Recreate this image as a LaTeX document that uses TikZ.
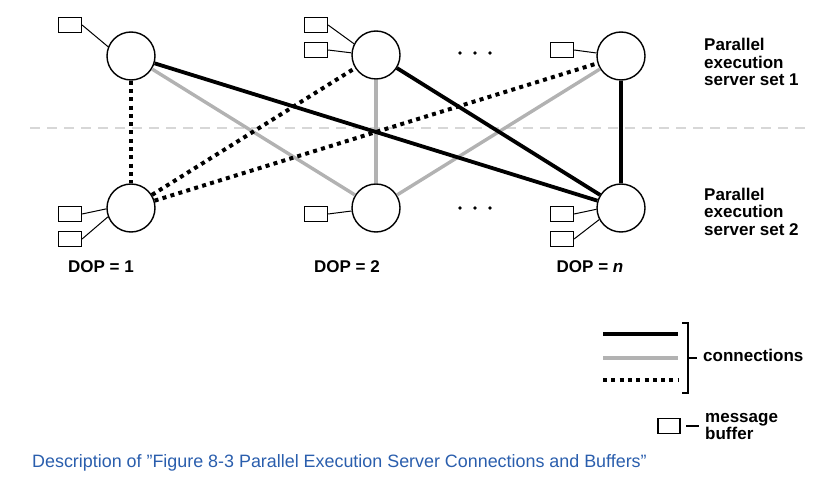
\documentclass[tikz,border=0pt]{standalone}
\usepackage{fontspec}
\setmainfont{Liberation Sans}
\definecolor{lgray}{RGB}{178,178,178}
\definecolor{sepgray}{RGB}{215,215,215}
\definecolor{capblue}{RGB}{42,94,173}
\begin{document}
\begin{tikzpicture}[x=1pt,y=-1pt,
  srv/.style={circle,draw,line width=1.4pt,minimum size=48pt,inner sep=0pt,fill=white},
  buf/.style={rectangle,draw,line width=1.2pt,minimum width=23pt,minimum height=15pt,inner sep=0pt},
  bufln/.style={line width=1pt},
  blk/.style={line width=3.8pt,black},
  gry/.style={line width=3.4pt,draw=lgray},
  dotconn/.style={line width=4pt,dash pattern=on 4pt off 4.3pt},
  lab/.style={font=\fontsize{17}{17.5}\selectfont\bfseries,align=left,anchor=base west,inner sep=0pt},
  doplab/.style={font=\fontsize{17}{17.5}\selectfont\bfseries,anchor=base,inner sep=0pt},
  ell/.style={fill=black}
]
\useasboundingbox (0,0) rectangle (819,489);

% separator
\draw[sepgray,line width=2pt,dash pattern=on 10pt off 7pt] (30,128) -- (808,128);

% servers
\node[srv] (t1) at (131,56) {};
\node[srv] (t2) at (376,55) {};
\node[srv] (tn) at (621,56) {};
\node[srv] (b1) at (131,208) {};
\node[srv] (b2) at (376,208) {};
\node[srv] (bn) at (621,208) {};

% connections
\draw[gry] (t1) -- (b2);
\draw[gry] (t2) -- (b2);
\draw[gry] (b2) -- (tn);
\draw[blk] (t1) -- (bn);
\draw[blk] (t2) -- (bn);
\draw[blk] (tn) -- (bn);
\draw[dotconn] (t1) -- (b1);
\draw[dotconn] (b1) -- (t2);
\draw[dotconn] (b1) -- (tn);

% buffers
\node[buf] (bt1) at (70,25) {};
\draw[bufln] (bt1.east) -- (t1.158);
\node[buf] (bt2a) at (316,25) {};
\node[buf] (bt2b) at (316,50) {};
\draw[bufln] (bt2a.east) -- (t2.153);
\draw[bufln] (bt2b.east) -- (t2.175);
\node[buf] (btn) at (562,50) {};
\draw[bufln] (btn.east) -- (tn.173);
\node[buf] (bb1a) at (70,214) {};
\node[buf] (bb1b) at (70,239) {};
\draw[bufln] (bb1a.east) -- (b1.182);
\draw[bufln] (bb1b.east) -- (b1.201);
\node[buf] (bb2) at (316,214) {};
\draw[bufln] (bb2.east) -- (b2.187);
\node[buf] (bbna) at (562,214) {};
\node[buf] (bbnb) at (562,239) {};
\draw[bufln] (bbna.east) -- (bn.183);
\draw[bufln] (bbnb.east) -- (bn.208);

% ellipses
\fill[ell] (460,53) circle (1.8) (475,53) circle (1.8) (490,53) circle (1.8);
\fill[ell] (460,208) circle (1.8) (475,208) circle (1.8) (490,208) circle (1.8);

% labels
\node[lab] (set1) at (704,86) {Parallel\\execution\\server set 1};
\node[lab] (set2) at (704,235) {Parallel\\execution\\server set 2};
\node[doplab] (dop1) at (101,272) {DOP = 1};
\node[doplab] (dop2) at (347,272) {DOP = 2};
\node[doplab] (dopn) at (590,272) {DOP = {\itshape n}};

% legend
\coordinate (lk1) at (603,334);
\coordinate (lk2) at (678,334);
\coordinate (lg1) at (603,358);
\coordinate (lg2) at (678,358);
\coordinate (ld1) at (603,380);
\coordinate (ld2) at (679,380);
\draw[blk] (lk1) -- (lk2);
\draw[gry] (lg1) -- (lg2);
\draw[dotconn] (ld1) -- (ld2);
\draw[line width=1.3pt] (682,323) -- (688,323) -- (688,393) -- (682,393);
\draw[line width=1.3pt] (688,358) -- (697,358);
\node[lab] (conn) at (703,361) {connections};
\node[buf,minimum width=22pt] (lbuf) at (669,426) {};
\draw[line width=1.3pt] (686,426) -- (699,426);
\node[lab,font=\fontsize{17}{15}\selectfont\bfseries] (msg) at (705,439) {message\\buffer};

% caption
\node[anchor=base west,inner sep=0pt,text=capblue,font=\fontsize{17.9}{20}\selectfont] (cap) at (32,467) {Description of \char34\relax Figure 8-3 Parallel Execution Server Connections and Buffers\char34\relax};
\end{tikzpicture}
\end{document}
